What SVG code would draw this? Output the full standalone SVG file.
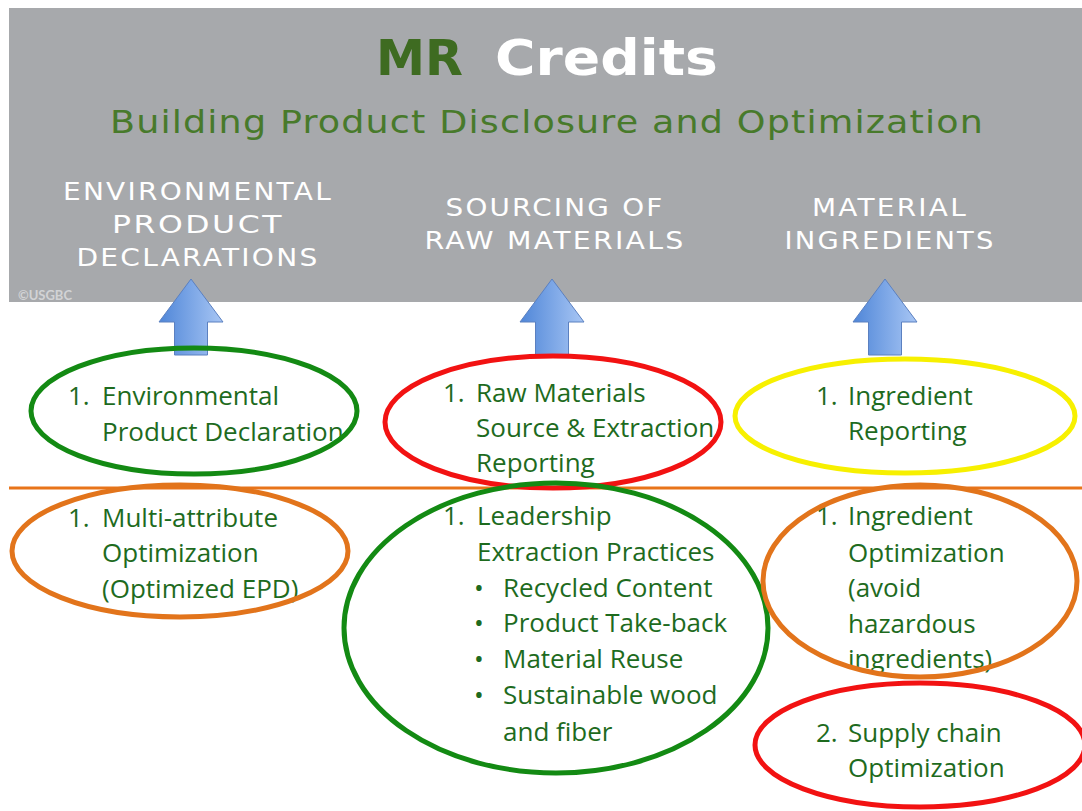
<svg xmlns="http://www.w3.org/2000/svg" xmlns:xlink="http://www.w3.org/1999/xlink" width="1082" height="811" viewBox="0 0 1082 811">
  <style>
    .hdr { font-family: "DejaVu Sans", Lato, sans-serif; fill: #ffffff; font-size: 25px; letter-spacing: 2px; text-anchor: middle; }
    .body { font-family: "Open Sans", "Noto Sans", sans-serif; font-size: 26px; fill: #1e6b1e; }
    .ring { fill: none; stroke-width: 5; }
    .green { stroke: #138a13; }
    .red { stroke: #f21212; }
    .yellow { stroke: #f7f000; }
    .orange { stroke: #e2741b; }
    .arrow { fill: url(#arrowFill); stroke: #5b80c0; stroke-width: 1; }
  </style>
  <defs>
    <linearGradient id="arrowFill" x1="0" y1="0" x2="1" y2="0">
      <stop offset="0" stop-color="#4f86d8"/>
      <stop offset="1" stop-color="#a8c6f4"/>
    </linearGradient>
    <!-- block arrow pointing up, tip at origin -->
    <path id="arrowUp" d="M0,0 L32,43 L16.5,43 L16.5,76 L-16.5,76 L-16.5,43 L-32,43 Z"/>
  </defs>

  <rect x="0" y="0" width="1082" height="811" fill="#ffffff"/>

  <!-- header banner -->
  <g id="banner">
    <rect x="9" y="8" width="1073" height="294" fill="#a7a9ac"/>
    <text x="376" y="75" font-family="'DejaVu Sans', Lato, sans-serif" font-weight="700" font-size="50" fill="#3e6b21" textLength="87" lengthAdjust="spacingAndGlyphs">MR</text>
    <text x="495" y="75" font-family="'DejaVu Sans', Lato, sans-serif" font-weight="700" font-size="50" fill="#ffffff" textLength="223" lengthAdjust="spacingAndGlyphs">Credits</text>
    <text x="547" y="133" font-family="'DejaVu Sans', Lato, sans-serif" font-size="32" letter-spacing="1" fill="#487a2b" text-anchor="middle" textLength="874" lengthAdjust="spacingAndGlyphs">Building Product Disclosure and Optimization</text>
    <text class="hdr" x="198" y="200" textLength="270" lengthAdjust="spacingAndGlyphs">ENVIRONMENTAL</text>
    <text class="hdr" x="198" y="233" textLength="172" lengthAdjust="spacingAndGlyphs">PRODUCT</text>
    <text class="hdr" x="198" y="266" textLength="243" lengthAdjust="spacingAndGlyphs">DECLARATIONS</text>
    <text class="hdr" x="555" y="216" textLength="219" lengthAdjust="spacingAndGlyphs">SOURCING OF</text>
    <text class="hdr" x="555" y="249" textLength="261" lengthAdjust="spacingAndGlyphs">RAW MATERIALS</text>
    <text class="hdr" x="890" y="216" textLength="156" lengthAdjust="spacingAndGlyphs">MATERIAL</text>
    <text class="hdr" x="890" y="249" textLength="211" lengthAdjust="spacingAndGlyphs">INGREDIENTS</text>
    <text x="18" y="300" font-family="Lato, sans-serif" font-weight="700" font-size="12.5" fill="#d2d3d5" textLength="54" lengthAdjust="spacingAndGlyphs">©USGBC</text>
  </g>

  <!-- divider between disclosure and optimization rows -->
  <line x1="9" y1="488" x2="1082" y2="488" stroke="#e8741a" stroke-width="3"/>

  <g id="connectors">
    <use xlink:href="#arrowUp" class="arrow" x="191" y="279"/>
    <use xlink:href="#arrowUp" class="arrow" x="552" y="279"/>
    <use xlink:href="#arrowUp" class="arrow" x="885" y="279"/>
  </g>

  <g id="epd-disclosure">
    <text class="body" x="68" y="405">1.</text>
    <text class="body" x="102" y="405">Environmental</text>
    <text class="body" x="102" y="441">Product Declaration</text>
    <ellipse class="ring green" cx="194" cy="411" rx="163" ry="63"/>
  </g>

  <g id="raw-materials-reporting">
    <text class="body" x="443" y="402">1.</text>
    <text class="body" x="476" y="402">Raw Materials</text>
    <text class="body" x="476" y="437">Source &amp; Extraction</text>
    <text class="body" x="476" y="472">Reporting</text>
    <ellipse class="ring red" cx="553" cy="422" rx="168" ry="66"/>
  </g>

  <g id="ingredient-reporting">
    <text class="body" x="816" y="405">1.</text>
    <text class="body" x="848" y="405">Ingredient</text>
    <text class="body" x="848" y="440">Reporting</text>
    <ellipse class="ring yellow" cx="905" cy="416" rx="170" ry="57"/>
  </g>

  <g id="multi-attribute-optimization">
    <text class="body" x="68" y="527">1.</text>
    <text class="body" x="102" y="527">Multi-attribute</text>
    <text class="body" x="102" y="562">Optimization</text>
    <text class="body" x="102" y="598">(Optimized EPD)</text>
    <ellipse class="ring orange" cx="180" cy="551" rx="168" ry="66"/>
  </g>

  <g id="leadership-extraction">
    <text class="body" x="443" y="525">1.</text>
    <text class="body" x="477" y="525">Leadership</text>
    <text class="body" x="477" y="561">Extraction Practices</text>
    <text class="body" x="474" y="597">•</text>
    <text class="body" x="503" y="597">Recycled Content</text>
    <text class="body" x="474" y="632">•</text>
    <text class="body" x="503" y="632">Product Take-back</text>
    <text class="body" x="474" y="668">•</text>
    <text class="body" x="503" y="668">Material Reuse</text>
    <text class="body" x="474" y="704">•</text>
    <text class="body" x="503" y="704">Sustainable wood</text>
    <text class="body" x="503" y="741">and fiber</text>
    <ellipse class="ring green" cx="556" cy="628" rx="212" ry="145"/>
  </g>

  <g id="ingredient-optimization">
    <text class="body" x="816" y="525">1.</text>
    <text class="body" x="848" y="525">Ingredient</text>
    <text class="body" x="848" y="562">Optimization</text>
    <text class="body" x="848" y="597">(avoid</text>
    <text class="body" x="848" y="633">hazardous</text>
    <text class="body" x="848" y="668">ingredients)</text>
    <ellipse class="ring orange" cx="920" cy="581" rx="157" ry="96"/>
  </g>

  <g id="supply-chain-optimization">
    <text class="body" x="816" y="742">2.</text>
    <text class="body" x="848" y="742">Supply chain</text>
    <text class="body" x="848" y="777">Optimization</text>
    <ellipse class="ring red" cx="920" cy="745" rx="165" ry="62"/>
  </g>
</svg>
